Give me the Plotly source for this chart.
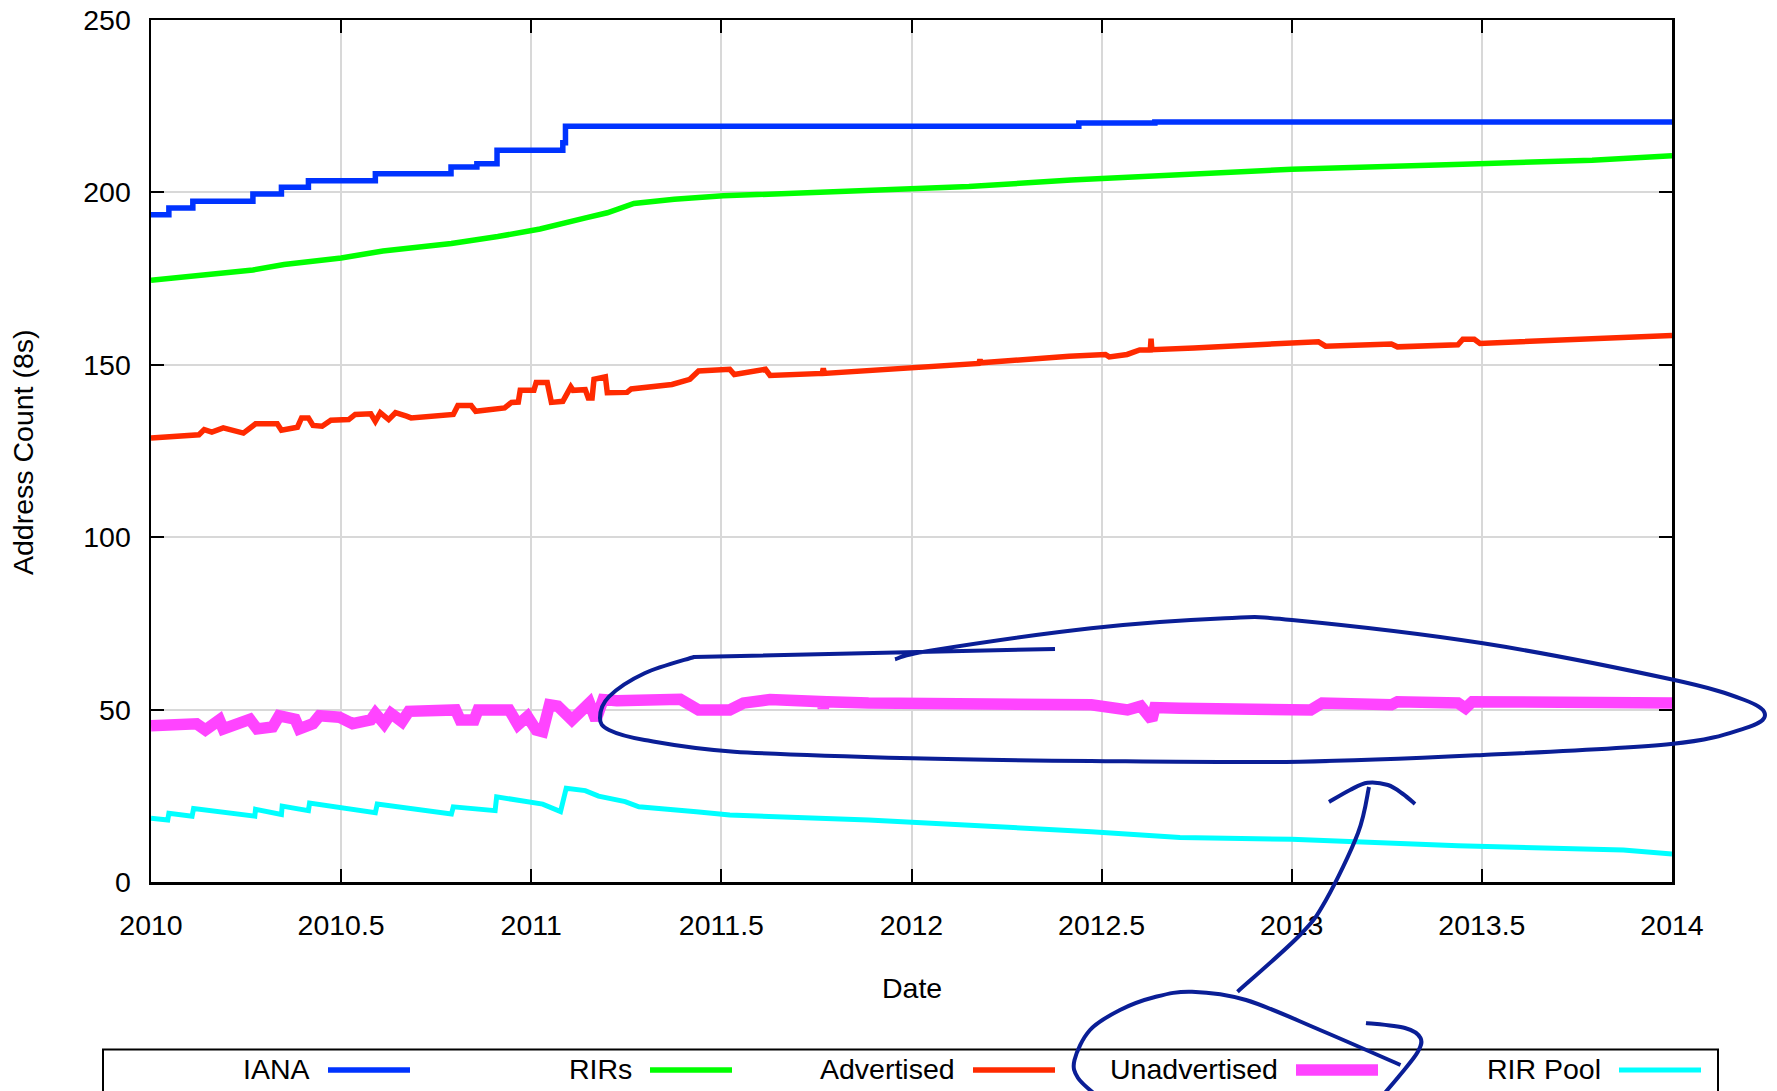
import plotly.graph_objects as go

# ---------------- data ----------------
series_names = ["IANA", "RIRs", "Advertised", "Unadvertised", "RIR Pool"]
series_colors = ["#0033ff", "#00ff00", "#ff2a00", "#ff44ff", "#00ffff"]

iana_x = [2010.0, 2010.047, 2010.11, 2010.268, 2010.343, 2010.414, 2010.59, 2010.789,
          2010.857, 2010.91, 2011.083, 2011.09, 2012.44, 2012.64, 2014.0]
iana_y = [193.5, 195.5, 197.4, 199.5, 201.5, 203.4, 205.4, 207.4,
          208.3, 212.2, 214.4, 219.2, 220.1, 220.4, 220.4]

rirs_x = [2010.0, 2010.167, 2010.268, 2010.35, 2010.5, 2010.61, 2010.79, 2010.912,
          2011.023, 2011.143, 2011.2, 2011.27, 2011.376, 2011.505, 2011.893, 2012.151,
          2012.42, 2012.72, 2013.0, 2013.45, 2013.79, 2014.0]
rirs_y = [174.5, 176.5, 177.5, 179.1, 181.0, 183.0, 185.2, 187.2,
          189.4, 192.6, 194.1, 196.8, 198.0, 199.0, 200.4, 201.7,
          203.6, 205.3, 206.7, 208.2, 209.3, 210.6]

adv_x = [2010.0, 2010.126, 2010.14, 2010.16, 2010.19, 2010.215, 2010.243, 2010.275,
         2010.332, 2010.343, 2010.385, 2010.396, 2010.414, 2010.426, 2010.45, 2010.473,
         2010.52, 2010.537, 2010.578, 2010.59, 2010.603, 2010.625, 2010.643, 2010.672,
         2010.684, 2010.795, 2010.807, 2010.842, 2010.854, 2010.93, 2010.948, 2010.966,
         2010.971, 2011.007, 2011.013, 2011.042, 2011.053, 2011.083, 2011.095, 2011.104,
         2011.11, 2011.142, 2011.15, 2011.16, 2011.165, 2011.195, 2011.2, 2011.252,
         2011.263, 2011.37, 2011.417, 2011.44, 2011.522, 2011.534, 2011.616, 2011.628,
         2011.765, 2011.768, 2011.771, 2012.004, 2012.177, 2012.18, 2012.183, 2012.415,
         2012.51, 2012.52, 2012.567, 2012.60, 2012.628, 2012.63, 2012.632, 2012.743,
         2013.013, 2013.07, 2013.089, 2013.262, 2013.278, 2013.437, 2013.45, 2013.48,
         2013.495, 2013.785, 2014.0]
adv_y = [128.8, 129.7, 131.2, 130.5, 131.7, 130.8, 130.2, 132.9,
         132.9, 131.0, 131.9, 134.6, 134.6, 132.4, 132.2, 133.9,
         134.1, 135.6, 135.8, 133.6, 136.1, 134.1, 136.1, 135.1,
         134.6, 135.6, 138.2, 138.2, 136.5, 137.5, 139.1, 139.2,
         142.6, 142.6, 144.9, 144.9, 139.1, 139.4, 141.9, 143.6,
         142.6, 142.8, 140.4, 140.4, 145.8, 146.5, 141.9, 142.0,
         143.0, 144.3, 145.8, 148.2, 148.7, 147.2, 148.7, 146.9,
         147.5, 149.0, 147.5, 149.1, 150.4, 151.5, 150.6, 152.5,
         153.0, 152.3, 153.0, 154.3, 154.3, 157.6, 154.4, 154.9,
         156.1, 156.7, 155.4, 156.0, 155.2, 155.8, 157.4, 157.4,
         156.2, 157.6, 158.5]

unadv_x = [2010.0, 2010.12, 2010.143, 2010.18, 2010.19, 2010.238, 2010.26, 2010.279,
           2010.32, 2010.337, 2010.379, 2010.39, 2010.426, 2010.443, 2010.495, 2010.53,
           2010.578, 2010.59, 2010.613, 2010.631, 2010.66, 2010.678, 2010.801, 2010.813,
           2010.85, 2010.86, 2010.942, 2010.965, 2010.99, 2011.013, 2011.03, 2011.048,
           2011.07, 2011.107, 2011.153, 2011.17, 2011.189, 2011.225, 2011.392, 2011.44,
           2011.522, 2011.558, 2011.628, 2011.765, 2011.768, 2011.771, 2011.887, 2012.17,
           2012.473, 2012.568, 2012.603, 2012.632, 2012.64, 2012.706, 2013.013, 2013.05,
           2013.08, 2013.262, 2013.278, 2013.437, 2013.457, 2013.475, 2014.0]
unadv_y = [45.3, 45.9, 44.1, 47.0, 44.4, 45.9, 47.2, 44.4,
           45.0, 48.2, 47.2, 44.4, 45.9, 48.2, 47.8, 45.9,
           47.0, 48.9, 45.9, 48.9, 46.5, 49.5, 49.9, 47.0,
           47.0, 49.9, 49.9, 45.6, 48.0, 44.1, 43.6, 51.4,
           51.0, 47.0, 51.9, 47.0, 52.9, 52.6, 53.0, 49.9,
           49.9, 51.9, 52.9, 52.3, 50.4, 52.3, 51.9, 51.4,
           51.4, 49.9, 51.0, 47.0, 50.6, 50.4, 50.4, 49.9,
           51.9, 51.4, 52.3, 51.9, 50.4, 52.3, 51.9]

pool_x = [2010.0, 2010.044, 2010.047, 2010.108, 2010.112, 2010.273, 2010.275, 2010.343,
          2010.345, 2010.414, 2010.417, 2010.59, 2010.595, 2010.79, 2010.795, 2010.86,
          2010.905, 2010.909, 2011.03, 2011.077, 2011.092, 2011.142, 2011.177, 2011.247,
          2011.283, 2011.434, 2011.522, 2011.887, 2012.156, 2012.473, 2012.706, 2013.0,
          2013.437, 2013.872, 2014.0]
pool_y = [18.5, 18.0, 19.9, 19.1, 21.3, 19.1, 21.1, 19.6,
          22.0, 20.7, 22.9, 20.1, 22.6, 19.7, 21.8, 21.1,
          20.7, 24.7, 22.6, 20.4, 27.2, 26.5, 24.9, 23.3,
          21.8, 20.4, 19.4, 18.0, 16.5, 14.6, 12.9, 12.4,
          10.5, 9.3, 8.1]

x_ticks = [2010, 2010.5, 2011, 2011.5, 2012, 2012.5, 2013, 2013.5, 2014]
x_tick_labels = ["2010", "2010.5", "2011", "2011.5", "2012", "2012.5", "2013", "2013.5", "2014"]
y_ticks = [0, 50, 100, 150, 200, 250]

# ---------------- layout geometry (page pixels) ----------------
W, H = 1777, 1091
PL, PR, PT, PB = 151, 1672, 20, 882     # plot area in page pixels
FONT = "Liberation Sans, Arial, Helvetica, sans-serif"
FS = 28.5


def to_paper(px, py):
    return ((px - PL) / (PR - PL), (PB - py) / (PB - PT))


def smooth_path(pts, lead=None):
    """Catmull-Rom spline through pixel points, as an SVG path in paper units."""
    p = [to_paper(*q) for q in pts]
    if lead:
        lp = [to_paper(*q) for q in lead]
        s = "M %.5f,%.5f" % lp[0]
        for q in lp[1:]:
            s += " L %.5f,%.5f" % q
    else:
        s = "M %.5f,%.5f" % p[0]
    for i in range(len(p) - 1):
        p0 = p[i - 1] if i > 0 else p[i]
        p1, p2 = p[i], p[i + 1]
        p3 = p[i + 2] if i + 2 < len(p) else p[i + 1]
        c1 = (p1[0] + (p2[0] - p0[0]) / 6, p1[1] + (p2[1] - p0[1]) / 6)
        c2 = (p2[0] - (p3[0] - p1[0]) / 6, p2[1] - (p3[1] - p1[1]) / 6)
        s += " C %.5f,%.5f %.5f,%.5f %.5f,%.5f" % (c1 + c2 + p2)
    return s


fig = go.Figure()
all_x = [iana_x, rirs_x, adv_x, unadv_x, pool_x]
all_y = [iana_y, rirs_y, adv_y, unadv_y, pool_y]
widths = [5.5, 5.5, 5.5, 11.5, 5]
shapes_ = ["hv", "linear", "linear", "linear", "linear"]
for name, col, xs, ys, w, sh in zip(series_names, series_colors, all_x, all_y, widths, shapes_):
    fig.add_trace(go.Scatter(x=xs, y=ys, mode="lines", name=name,
                             line=dict(color=col, width=w, shape=sh),
                             showlegend=False))

axis_common = dict(
    showline=True, linecolor="black", linewidth=2.5, mirror="ticks",
    ticks="inside", ticklen=13, tickwidth=2, tickcolor="black",
    showgrid=True, gridcolor="#d8d8d8", gridwidth=2, zeroline=False,
    ticklabeloverflow="allow", automargin=False,
    tickfont=dict(family=FONT, size=FS, color="black"),
)
fig.update_xaxes(range=[2010, 2014], tickvals=x_ticks, ticktext=x_tick_labels,
                 ticklabelstandoff=16, **axis_common)
fig.update_yaxes(range=[0, 250], tickvals=y_ticks, ticklabelstandoff=12, **axis_common)

shapes = []
annotations = []

# axis titles
annotations.append(dict(x=to_paper(912, 0)[0], y=to_paper(0, 988)[1], xref="paper", yref="paper",
                        text="Date", showarrow=False, xanchor="center", yanchor="middle",
                        font=dict(family=FONT, size=FS, color="black")))
annotations.append(dict(x=to_paper(23, 0)[0], y=to_paper(0, 452)[1], xref="paper", yref="paper",
                        text="Address Count (8s)", showarrow=False, textangle=-90,
                        xanchor="center", yanchor="middle",
                        font=dict(family=FONT, size=FS, color="black")))

# legend box (gnuplot style: label then line sample)
bx0, by0 = to_paper(103, 1049.5)
bx1, by1 = to_paper(1718, 1110)
shapes.append(dict(type="rect", xref="paper", yref="paper", x0=bx0, x1=bx1, y0=by1, y1=by0,
                   line=dict(color="black", width=2), fillcolor="rgba(0,0,0,0)"))
legend_line_start = [328, 650, 973, 1296, 1619]
for name, col, w, ls in zip(series_names, series_colors, widths, legend_line_start):
    lx0, ly = to_paper(ls, 1070)
    lx1, _ = to_paper(ls + 82, 1070)
    shapes.append(dict(type="line", xref="paper", yref="paper", x0=lx0, x1=lx1, y0=ly, y1=ly,
                       line=dict(color=col, width=w)))
    tx, ty = to_paper(ls - 16, 1069)
    annotations.append(dict(x=tx, y=ty, xref="paper", yref="paper", text=name, showarrow=False,
                            xanchor="right", yanchor="middle",
                            font=dict(family=FONT, size=FS, color="black")))

# hand-drawn pen annotations
PEN = dict(color="#0a1e96", width=4)
ellipse_pts = [(694, 657), (644.6, 673.3), (609, 696.7), (600, 718), (609, 730), (644.6, 740),
               (734, 751.7), (912.5, 758.3), (1091, 761), (1300, 761.7), (1483, 755),
               (1671, 744), (1744.6, 728.3), (1765, 715), (1744.6, 700), (1671, 679.3),
               (1483, 643.3), (1292, 620), (1225, 618.3), (1091, 628.3), (930, 650.7),
               (895, 659.3)]
shapes.append(dict(type="path", xref="paper", yref="paper",
                   path=smooth_path(ellipse_pts, lead=[(1055, 649), (694, 657)]),
                   line=PEN, layer="above"))
arrow_stem = [(1237.5, 991.7), (1300, 935), (1326, 900), (1358, 833), (1369, 787)]
shapes.append(dict(type="path", xref="paper", yref="paper", path=smooth_path(arrow_stem),
                   line=PEN, layer="above"))
arrow_head = [(1329, 802), (1350, 790), (1367.5, 782.7), (1388, 785), (1403, 794), (1415, 804)]
shapes.append(dict(type="path", xref="paper", yref="paper", path=smooth_path(arrow_head),
                   line=PEN, layer="above"))
loop1 = [(1366, 1023), (1405, 1028), (1420.5, 1038), (1417.7, 1052), (1400, 1075), (1383, 1095)]
shapes.append(dict(type="path", xref="paper", yref="paper", path=smooth_path(loop1),
                   line=PEN, layer="above"))
loop2 = [(1097, 1096), (1078, 1078), (1074.5, 1060), (1090, 1030), (1120, 1010), (1155, 997),
         (1192, 991.7), (1246, 1000), (1320, 1030), (1400.5, 1065)]
shapes.append(dict(type="path", xref="paper", yref="paper", path=smooth_path(loop2),
                   line=PEN, layer="above"))

fig.update_layout(
    width=W, height=H,
    margin=dict(l=PL, r=W - PR, t=PT, b=H - PB, pad=0),
    paper_bgcolor="white", plot_bgcolor="white",
    font=dict(family=FONT, size=FS, color="black"),
    showlegend=False,
    hovermode=False,
    shapes=shapes, annotations=annotations,
)

# remove the page's default 8px body margin so the figure fills the window exactly
fig.write_html("out.html",
               config={"displayModeBar": False, "staticPlot": True},
               post_script="document.body.style.margin='0px';document.body.style.overflow='hidden';")
